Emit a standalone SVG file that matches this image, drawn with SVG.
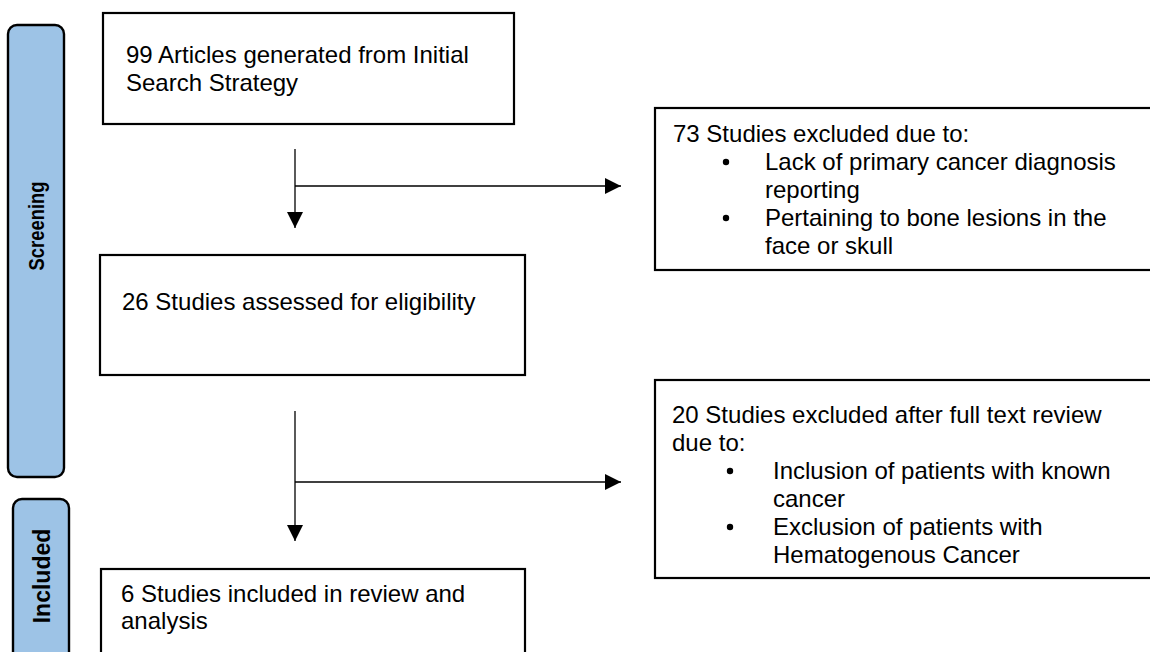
<svg xmlns="http://www.w3.org/2000/svg" width="1150" height="652" viewBox="0 0 1150 652">
<style>
.box{fill:#fff;stroke:#000;stroke-width:2.2}
.side{fill:#9dc3e6;stroke:#000;stroke-width:2.4}
.t{font-family:"Liberation Sans",Arial,sans-serif;font-size:24px;fill:#000}
.st{font-family:"Liberation Sans",Arial,sans-serif;font-size:23px;font-weight:bold;fill:#000}
.ln{fill:none;stroke:#000;stroke-width:1.3}
</style>
<defs>
<marker id="ah" markerUnits="userSpaceOnUse" markerWidth="16" markerHeight="16" viewBox="0 0 16 16" refX="16" refY="8" orient="auto">
<path d="M0,0 L16,8 L0,16 Z" fill="#000"/>
</marker>
</defs>
<g id="stage-screening">
<rect class="side" x="8" y="25" width="56" height="452" rx="9"/>
<text class="st" style="font-size:22px" transform="translate(36,226) rotate(-90)" text-anchor="middle" dominant-baseline="central" textLength="89" lengthAdjust="spacingAndGlyphs">Screening</text>
</g>
<g id="stage-included">
<rect class="side" x="13" y="499" width="56" height="165" rx="9"/>
<text class="st" transform="translate(42,576) rotate(-90)" text-anchor="middle" dominant-baseline="central">Included</text>
</g>
<g id="node-initial">
<rect class="box" x="103" y="13" width="411" height="111"/>
<text class="t" x="126" y="63">99 Articles generated from Initial</text>
<text class="t" x="126" y="91">Search Strategy</text>
</g>
<g id="node-excluded1">
<rect class="box" x="655" y="108" width="500" height="162"/>
<text class="t" x="673" y="142">73 Studies excluded due to:</text>
<circle cx="726" cy="162" r="3.2"/>
<text class="t" x="765" y="170">Lack of primary cancer diagnosis</text>
<text class="t" x="765" y="198">reporting</text>
<circle cx="726" cy="218" r="3.2"/>
<text class="t" x="765" y="226">Pertaining to bone lesions in the</text>
<text class="t" x="765" y="254">face or skull</text>
</g>
<g id="node-assessed">
<rect class="box" x="100" y="255" width="425" height="120"/>
<text class="t" x="122" y="310">26 Studies assessed for eligibility</text>
</g>
<g id="node-excluded2">
<rect class="box" x="655" y="380" width="500" height="198"/>
<text class="t" x="672" y="423">20 Studies excluded after full text review</text>
<text class="t" x="672" y="451">due to:</text>
<circle cx="730" cy="471" r="3.2"/>
<text class="t" x="773" y="479">Inclusion of patients with known</text>
<text class="t" x="773" y="507">cancer</text>
<circle cx="730" cy="527" r="3.2"/>
<text class="t" x="773" y="535">Exclusion of patients with</text>
<text class="t" x="773" y="563">Hematogenous Cancer</text>
</g>
<g id="node-included">
<rect class="box" x="101" y="569" width="424" height="95"/>
<text class="t" x="121" y="602">6 Studies included in review and</text>
<text class="t" x="121" y="629">analysis</text>
</g>
<g id="connectors">
<line class="ln" x1="295" y1="149" x2="295" y2="228" marker-end="url(#ah)"/>
<line class="ln" x1="295" y1="186" x2="621" y2="186" marker-end="url(#ah)"/>
<line class="ln" x1="295" y1="411" x2="295" y2="541" marker-end="url(#ah)"/>
<line class="ln" x1="295" y1="482" x2="621" y2="482" marker-end="url(#ah)"/>
</g>
</svg>
